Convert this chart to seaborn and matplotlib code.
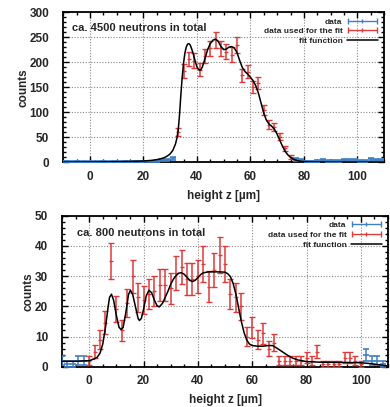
import numpy as np
import pandas as pd
import matplotlib
matplotlib.use("Agg")
import matplotlib.pyplot as plt
import seaborn as sns
from matplotlib.ticker import MultipleLocator
from matplotlib.legend_handler import HandlerErrorbar

# ---------------- data: ca. 4500 neutrons ----------------
top_fit_used_z = [33, 35, 37, 39, 41, 43, 45, 47, 49, 51, 53, 55, 57, 59, 61, 63,
                  65, 67, 69, 71, 73, 75]
top_fit_used_counts = [60, 182, 206, 203, 185, 212, 228, 244, 228, 221, 215, 234,
                       174, 181, 151, 158, 105, 75, 71, 51, 28, 11]
top_other_z = [-9, -7, -5, -3, -1, 1, 3, 5, 7, 9, 11, 13, 15, 17, 19, 21, 23, 25,
               27, 29, 31,
               77, 79, 81, 83, 85, 87, 89, 91, 93, 95, 97, 99, 101, 103, 105, 107, 109]
top_other_counts = [2, 1, 2, 1, 1, 1, 1, 2, 1, 2, 1, 2, 1, 2, 1, 2, 2, 3, 4, 5, 8,
                    6, 4, 2, 2, 3, 5, 3, 3, 3, 4, 4, 5, 3, 3, 6, 4, 4]
top_curve_z = [-10, -5, 0, 5, 10, 15, 20, 23, 25, 27, 28, 29, 30, 31, 32, 32.5, 33,
               33.5, 34, 34.5, 35, 35.5, 36, 36.5, 37, 37.5, 38, 38.5, 39, 39.5, 40,
               40.5, 41, 41.5, 42, 42.5, 43, 43.5, 44, 45, 46, 47, 48, 49, 50, 51,
               52, 53, 54, 55, 56, 57, 58, 59, 60, 61, 62, 63, 64, 65, 66, 67, 68,
               69, 70, 71, 72, 73, 74, 75, 76, 77, 78, 79, 80, 82, 85, 90, 100, 110]
top_curve = [0.5, 0.6, 0.8, 1, 1.3, 1.8, 2.8, 4, 5.5, 8, 10, 13, 17, 24, 37, 48, 64,
             95, 135, 170, 198, 218, 230, 236, 237, 234, 227, 219, 209, 199, 191,
             186, 184, 185, 190, 198, 207, 216, 225, 237, 244, 246, 241, 231, 225,
             226, 230, 231, 228, 219, 203, 189, 181, 176, 170, 163, 153, 138, 118,
             98, 84, 76, 72, 66, 56, 44, 32, 22, 15, 10, 6.5, 4.5, 3, 2, 1.5, 1,
             0.7, 0.5, 0.5, 0.5]

# ---------------- data: ca. 800 neutrons ----------------
bot_fit_used_z = list(range(0, 101, 2))
bot_fit_used_counts = [2, 5, 9, 14.5, 35, 19, 12, 21, 30, 23, 22, 24, 25, 27, 27, 26,
                       31, 33, 29, 29, 30, 34, 26.5, 32, 37, 34, 24, 23, 20, 10, 13,
                       9, 11, 6, 8, 2, 2, 2, 2, 2, 3, 2, 5, 1, 1, 1, 1, 3, 3, 2, 1]
bot_other_z = [-10, -8, -6, -4, -2, 102, 104, 106, 108]
bot_other_counts = [2, 1, 1, 2, 2, 4, 2, 2, 1]
bot_curve_z = [-10, -5, 0, 2, 3, 4, 5, 6, 7, 7.5, 8.2, 9, 10, 11, 11.8, 12.5, 13.5,
               14.5, 15.2, 16, 17, 18, 18.5, 19.2, 20, 21, 22, 23, 24, 25, 25.8, 27,
               28, 29, 30, 31, 32, 33, 34, 35, 36, 37, 38, 39, 40, 41, 42, 44, 46,
               48, 50, 51, 52, 53, 54, 55, 56, 57, 58, 59, 60, 62, 64, 66, 67.5, 69,
               71, 73, 75, 77, 80, 85, 95, 100, 104, 107, 110]
bot_curve = [1.8, 1.8, 2.0, 2.6, 3.2, 4.5, 7.5, 13, 20, 23, 24, 22, 17, 13, 12.3, 13,
             18, 24, 25.3, 24, 20, 16, 15.3, 16, 19, 23.5, 25.3, 24.5, 22, 20.2, 19.8,
             21, 23, 25, 27.3, 29, 30.2, 31, 31.1, 30.6, 29.6, 28.6, 28.2, 28.6, 29.5,
             30.5, 31.1, 31.4, 31.4, 31.4, 31.3, 30.8, 29.8, 27.5, 24, 19.5, 15, 11.3,
             8.8, 7.5, 7, 6.8, 6.8, 7, 7, 6.2, 5, 3.8, 2.8, 2.2, 1.7, 1.5, 1.4, 1.3,
             1.0, 0.6, 0.2]

BLUE = "#3f7fc4"
RED = "#dc3b3b"
LEGEND_FS = 6.0

sns.set_theme(style="ticks")
plt.rcParams["font.family"] = ["Liberation Sans", "DejaVu Sans"]
plt.rcParams["font.weight"] = "bold"
plt.rcParams["axes.labelweight"] = "bold"

fig = plt.figure(figsize=(3.9, 4.07), dpi=100)
ax_top = fig.add_axes([0.162, 0.601, 0.823, 0.3695])
ax_bot = fig.add_axes([0.159, 0.099, 0.836, 0.371])


def draw_panel(ax, other_z, other_c, used_z, used_c, cz, cc, ymax, ymaj, ymin, note,
               note_xy):
    other_c = np.asarray(other_c, float)
    used_c = np.asarray(used_c, float)
    # data points with Poisson error bars
    ax.errorbar(other_z, other_c, yerr=np.sqrt(other_c), fmt="_", color=BLUE,
                ms=3.8, mew=1.2, elinewidth=1.1, capsize=2.0, capthick=1.0, zorder=3)
    ax.errorbar(used_z, used_c, yerr=np.sqrt(used_c), fmt="_", color=RED,
                ms=3.5, mew=1.0, elinewidth=1.1, capsize=2.2, capthick=1.0, zorder=3)
    # fit function
    curve = pd.DataFrame({"z": cz, "counts": cc})
    sns.lineplot(data=curve, x="z", y="counts", ax=ax, color="black", lw=1.1,
                 zorder=4, sort=False)

    # legend entries drawn as horizontal bars with end caps
    h1 = ax.errorbar([np.nan], [np.nan], xerr=[1], fmt="|", color=BLUE, ms=3.5,
                     capsize=2, elinewidth=1.0)
    h2 = ax.errorbar([np.nan], [np.nan], xerr=[1], fmt="|", color=RED, ms=3.5,
                     capsize=2, elinewidth=1.0)
    h3 = plt.Line2D([], [], color="black", lw=1.1)
    leg = ax.legend([h1, h2, h3], ["data", "data used for the fit", "fit function"],
                    loc="upper right", frameon=False, markerfirst=False,
                    fontsize=LEGEND_FS, handlelength=3.8, labelspacing=0.22,
                    borderaxespad=0.3, handletextpad=0.5,
                    handler_map={type(h1): HandlerErrorbar(xerr_size=1.75)})
    for t in leg.get_texts():
        t.set_fontweight("bold")

    ax.text(note_xy[0], note_xy[1], note, transform=ax.transAxes, fontsize=8,
            fontweight="bold", va="center", ha="left")

    ax.set_xlim(-10, 110)
    ax.set_ylim(0, ymax)
    ax.xaxis.set_major_locator(MultipleLocator(20))
    ax.xaxis.set_minor_locator(MultipleLocator(5))
    ax.yaxis.set_major_locator(MultipleLocator(ymaj))
    ax.yaxis.set_minor_locator(MultipleLocator(ymin))
    ax.tick_params(which="both", direction="in", top=True, right=True,
                   color="black", width=1.0)
    ax.tick_params(which="major", length=4.5)
    ax.tick_params(which="minor", length=2.5)
    ax.tick_params(axis="x", pad=6, labelsize=8.5)
    ax.tick_params(axis="y", pad=10, labelsize=8.5)
    for lab in ax.get_xticklabels() + ax.get_yticklabels():
        lab.set_fontweight("bold")
    ax.grid(True, which="major", linestyle=(0, (1, 1.5)), color="#8a8a8a", lw=0.8)
    for s in ax.spines.values():
        s.set_linewidth(1.3)
        s.set_color("black")
    ax.set_xlabel("height z [µm]", fontsize=8.5, fontweight="bold", labelpad=5)
    ax.set_ylabel("counts", fontsize=8.5, fontweight="bold", labelpad=0)
    ax.set_facecolor("white")


draw_panel(ax_top, top_other_z, top_other_counts, top_fit_used_z,
           top_fit_used_counts, top_curve_z, top_curve, 300, 50, 10,
           "ca. 4500 neutrons in total", (0.028, 0.893))
draw_panel(ax_bot, bot_other_z, bot_other_counts, bot_fit_used_z,
           bot_fit_used_counts, bot_curve_z, bot_curve, 50, 10, 2,
           "ca. 800 neutrons in total", (0.046, 0.887))

fig.savefig("out.png", dpi=100, facecolor="white")
